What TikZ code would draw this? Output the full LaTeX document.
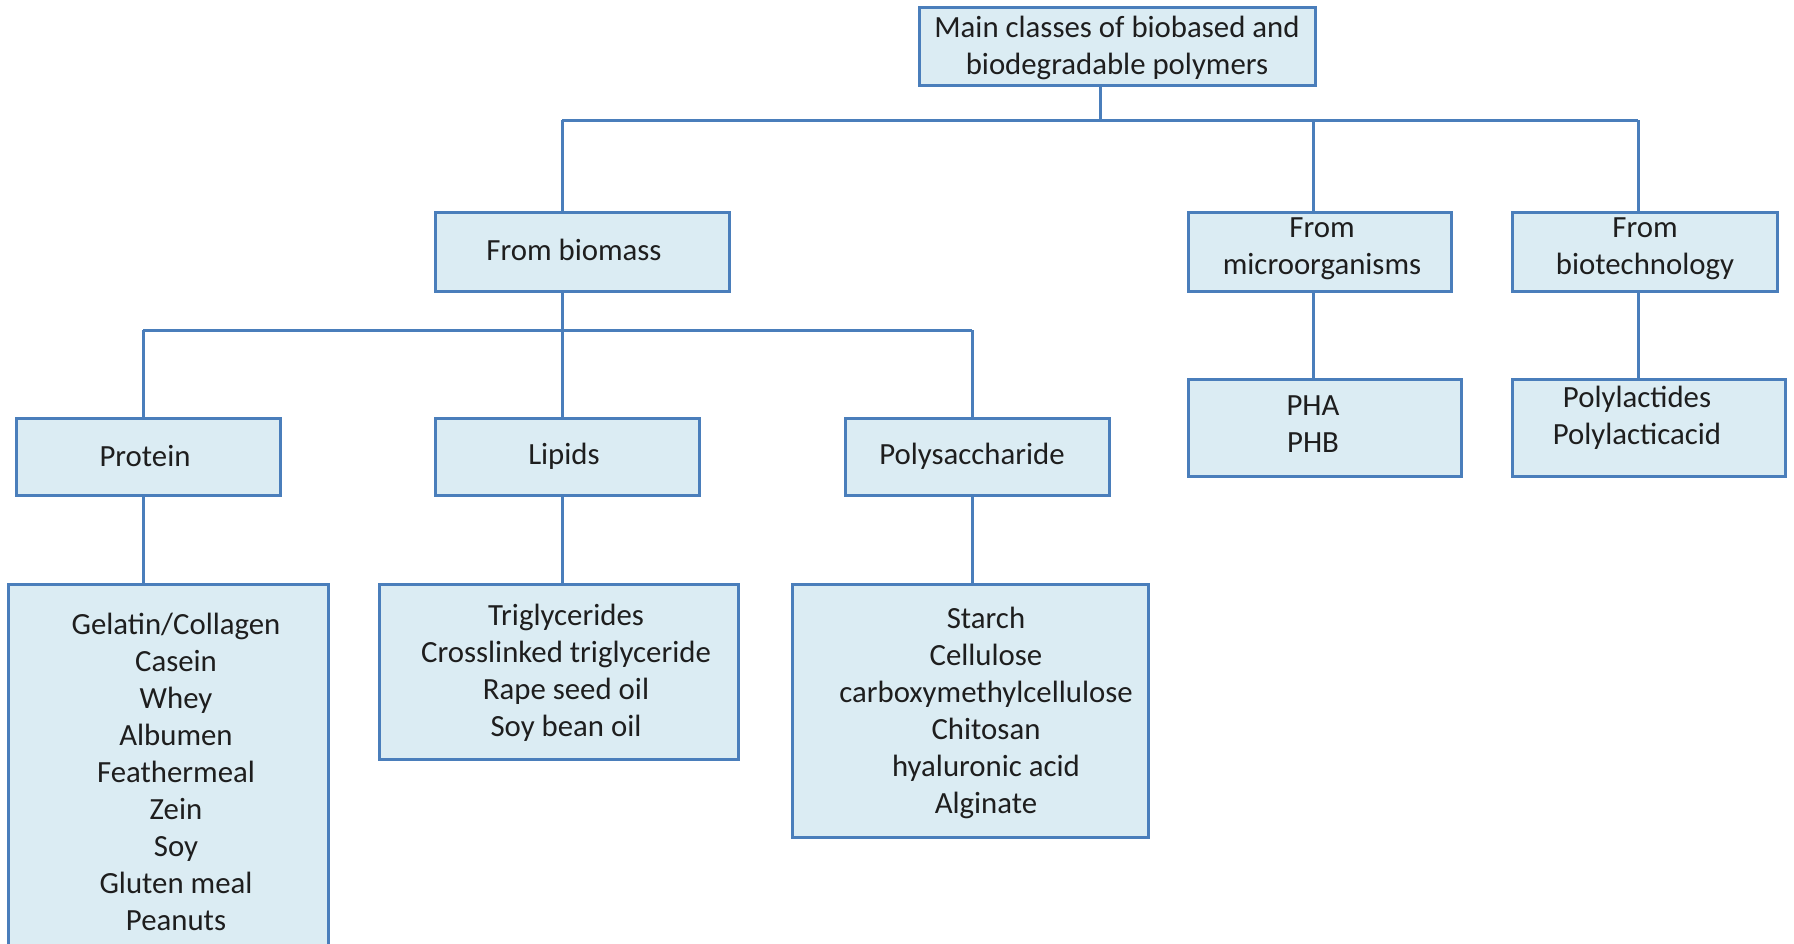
\documentclass[tikz,border=0pt]{standalone}
\usepackage{fontspec}
\setmainfont{Carlito}
\definecolor{boxfill}{HTML}{DBECF3}
\definecolor{boxline}{HTML}{4A7EBB}
\definecolor{inkc}{HTML}{1E1E1E}
\begin{document}
\begin{tikzpicture}[x=0.5pt,y=-0.5pt,
  box/.style={draw=boxline, fill=boxfill, line width=1.5pt, rectangle, inner sep=0pt},
  txt/.style={font=\fontsize{15.4}{18.5}\selectfont, text=inkc, align=center, inner sep=0pt},
  link/.style={draw=boxline, line width=1.5pt}]
\clip (0,0) rectangle (1794,943);
\fill[white] (0,0) rectangle (1794,943);

% boxes
\node[box, minimum width=198pt,   minimum height=39pt]   (main)     at (1117,46) {};
\node[box, minimum width=147pt,   minimum height=39.5pt] (biomass)  at (582,251.5) {};
\node[box, minimum width=131.5pt, minimum height=39.5pt] (micro)    at (1319.5,251.5) {};
\node[box, minimum width=132.5pt, minimum height=39.5pt] (biotech)  at (1644.5,251.5) {};
\node[box, minimum width=132pt,   minimum height=38.5pt] (protein)  at (148,456.5) {};
\node[box, minimum width=132pt,   minimum height=38.5pt] (lipids)   at (567,456.5) {};
\node[box, minimum width=132pt,   minimum height=38.5pt] (poly)     at (977,456.5) {};
\node[box, minimum width=160pt,   minimum height=188pt]  (protlist) at (168,772) {};
\node[box, minimum width=179.5pt, minimum height=87.5pt] (liplist)  at (558.5,671.5) {};
\node[box, minimum width=178pt,   minimum height=126.5pt](polylist) at (970,710.5) {};
\node[box, minimum width=136.5pt, minimum height=48.5pt] (pha)      at (1324.5,427.5) {};
\node[box, minimum width=136.5pt, minimum height=48.5pt] (pla)      at (1648.5,427.5) {};

% texts
\node[txt] (tmain)    at (1117,48) {Main classes of biobased and\\biodegradable polymers};
\node[txt] (tbiomass) at (574,250) {From biomass};
\node[txt] (tmicro)   at (1322,249) {From\\microorganisms};
\node[txt] (tbiotech) at (1645,249) {From\\biotechnology};
\node[txt] (tprotein) at (145,456) {Protein};
\node[txt] (tlipids)  at (564,456) {Lipids};
\node[txt] (tpoly)    at (972,456) {Polysaccharide};
\node[txt] (tprotlist) at (176,772) {Gelatin/Collagen\\Casein\\Whey\\Albumen\\Feathermeal\\Zein\\Soy\\Gluten meal\\Peanuts};
\node[txt] (tliplist) at (566,673) {Triglycerides\\Crosslinked triglyceride\\Rape seed oil\\Soy bean oil};
\node[txt] (tpolylist) at (986,713) {Starch\\Cellulose\\carboxymethylcellulose\\Chitosan\\hyaluronic acid\\Alginate};
\node[txt] (tpha)     at (1313,424) {PHA\\PHB};
\node[txt] (tpla)     at (1637,418) {Polylactides\\Polylacticacid};

% junction points of the tree
\coordinate (jtop) at (1100,120);
\coordinate (barL) at (562,120);
\coordinate (barM) at (1313,120);
\coordinate (barR) at (1638,120);
\coordinate (bmL) at (143,330);
\coordinate (bmM) at (562,330);
\coordinate (bmR) at (972,330);

% connectors
\draw[link] (main.south -| jtop) -- (jtop);
\draw[link] (barL) -- (barR);
\draw[link] (barL) -- (biomass.north -| barL);
\draw[link] (barM) -- (micro.north -| barM);
\draw[link] (barR) -- (biotech.north -| barR);
\draw[link] (biomass.south -| bmM) -- (bmM);
\draw[link] (bmL) -- (bmR);
\draw[link] (bmL) -- (protein.north -| bmL);
\draw[link] (bmM) -- (lipids.north -| bmM);
\draw[link] (bmR) -- (poly.north -| bmR);
\draw[link] (protein.south -| bmL) -- (protlist.north -| bmL);
\draw[link] (lipids.south -| bmM) -- (liplist.north -| bmM);
\draw[link] (poly.south -| bmR) -- (polylist.north -| bmR);
\draw[link] (micro.south -| barM) -- (pha.north -| barM);
\draw[link] (biotech.south -| barR) -- (pla.north -| barR);
\end{tikzpicture}
\end{document}
